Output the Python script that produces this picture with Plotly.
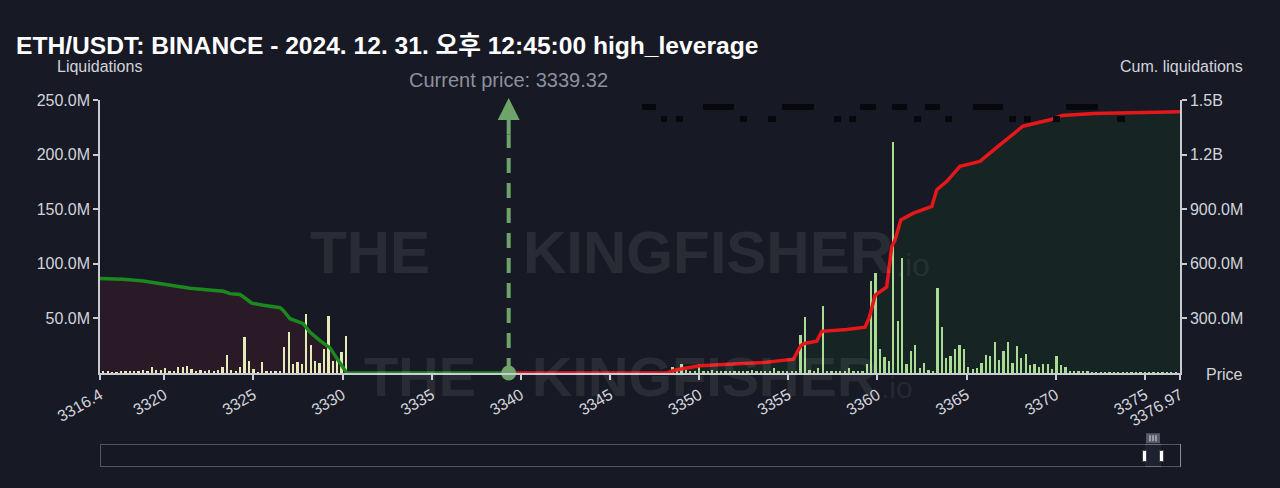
import plotly.graph_objects as go

# ---------------- data ----------------
title_text = "ETH/USDT: BINANCE - 2024. 12. 31. 오후 12:45:00 high_leverage"
current_price = 3339.32
x_min, x_max = 3316.4, 3376.97
x_tick_vals = [3316.4, 3320, 3325, 3330, 3335, 3340, 3345, 3350, 3355, 3360, 3365, 3370, 3375, 3376.97]
x_tick_text = ["3316.4", "3320", "3325", "3330", "3335", "3340", "3345", "3350", "3355", "3360", "3365", "3370", "3375", "3376.97"]

liq_tick_vals = [50, 100, 150, 200, 250]
liq_tick_text = ["50.0M", "100.0M", "150.0M", "200.0M", "250.0M"]
cum_tick_vals = [300, 600, 900, 1200, 1500]
cum_tick_text = ["300.0M", "600.0M", "900.0M", "1.2B", "1.5B"]

# price bins (USD), liquidations in millions of USD
bin_start = 3316.6
bin_step = 0.2475

long_start_index = 0
long_liq = [1.2, 1.0, 0.3, 0.3, 1.0, 1.0, 1.0, 1.0, 1.5, 3.0, 1.0, 5.8, 2.7, 2.4, 4.3, 2.0,
            2.0, 5.8, 5.2, 6.4, 4.0, 2.0, 2.7, 2.0, 3.0, 1.8, 3.0, 5.2, 16.5, 2.7, 1.8, 5.2,
            33.3, 11.3, 4.0, 0.3, 9.8, 1.2, 1.0, 1.0, 1.0, 24.0, 38.0, 8.2, 10.4, 8.2, 54.0,
            25.6, 10.7, 9.5, 21.7, 52.5, 11.3, 12.0, 19.0, 33.9]

short_start_index = 128
short_liq = [0.8, 5.2, 2.0, 8.2, 2.7, 1.8, 1.8, 8.2,
             1.8, 1.8, 2.7, 1.8, 2.0, 1.8, 1.8, 2.0, 1.8, 1.8, 1.8, 2.7, 1.8, 1.8, 1.8, 1.8,
             4.3, 1.8, 1.8, 1.8, 1.8, 1.8,
             34.5, 51.3, 2.4, 1.8, 4.9, 61.0,
             1.8, 1.8, 1.8, 1.8, 1.8, 4.3, 1.8, 1.8, 1.8,
             8.0, 84.0, 91.6, 22.3, 14.7, 11.0, 212.0, 47.6, 105.0,
             8.5, 20.0, 25.3, 4.9, 9.5, 3.0, 1.8, 77.8, 42.0, 14.0, 15.3, 22.3, 25.3, 21.7,
             5.2, 3.7, 4.9, 9.5, 16.8, 15.9, 28.4, 12.2, 20.1, 28.7, 9.5, 25.0, 14.0, 17.4,
             7.0, 8.0, 5.8, 8.5, 8.2, 4.0, 15.6, 7.0, 5.8, 1.8, 1.8, 2.0, 1.2, 1.0,
             0.6, 0.6, 0.6, 0.6, 0.6, 0.6, 0.6, 0.6, 0.6, 0.6,
             0.6, 0.6, 0.6, 0.6, 0.6, 0.6, 0.6, 0.6, 0.6, 0.6]

# cumulative liquidations (millions)
long_cum_price = [3316.4, 3317.71, 3318.83, 3319.58, 3320.51, 3321.45, 3322.38, 3323.32, 3323.69,
                  3324.25, 3324.53, 3324.91, 3325.56, 3326.50, 3326.68, 3327.06, 3327.80, 3328.18,
                  3328.74, 3329.30, 3329.77, 3330.24, 3339.32]
long_cum = [519, 515, 506, 495, 482, 466, 458, 449, 436, 431, 412, 384, 372, 359, 344, 298, 271,
            224, 178, 138, 68, 0, 0]

short_cum_price = [3339.32, 3348.18, 3348.74, 3350.05, 3351.92, 3353.79, 3354.54, 3355.28, 3355.70,
                   3355.88, 3356.60, 3356.88, 3358.28, 3359.31, 3359.55, 3359.87, 3360.52, 3360.80,
                   3360.99, 3361.31, 3362.02, 3363.05, 3363.33, 3363.89, 3364.63, 3365.01, 3365.75,
                   3366.54, 3368.16, 3369.74, 3370.35, 3372.15, 3376.97]
short_cum = [0, 0, 18, 40, 50, 59, 68, 75, 150, 162, 175, 229, 239, 252, 307, 427, 473, 694, 731,
             841, 878, 915, 1007, 1053, 1136, 1145, 1163, 1227, 1356, 1393, 1415, 1426, 1436]

price_marker_top = 1310  # top of dashed current-price line (cum axis units)
slider_range = [-640, 3449]

# ---------------- style ----------------
BG = "#171924"
AXIS = "#c9cbd3"
TICK = "#d2d4dc"
FONT = "Liberation Sans, Arial, Noto Sans CJK KR, sans-serif"
WM_FONT = "Liberation Sans Narrow, Liberation Sans, Arial, sans-serif"
WM_COLOR = "rgba(255,255,255,0.08)"
PRICE_GREEN = "#6ea469"

W, H = 1280, 488
PL, PR, PT, PB = 100, 1180, 100, 372
SLIDER_TOP = 443


def px(x):
    return (x - PL) / (PR - PL)


def py(y):
    return (PB - y) / (PB - PT)


long_x = [bin_start + bin_step * (long_start_index + k) for k in range(len(long_liq))]
short_x = [bin_start + bin_step * (short_start_index + k) for k in range(len(short_liq))]

fig = go.Figure()

# fills (bottom layer, cum axis)
fig.add_trace(go.Scatter(x=long_cum_price, y=long_cum, mode="lines", line=dict(width=0),
                         fill="tozeroy", fillcolor="rgba(220,30,60,0.10)", yaxis="y",
                         hoverinfo="skip"))
fig.add_trace(go.Scatter(x=short_cum_price, y=short_cum, mode="lines", line=dict(width=0),
                         fill="tozeroy", fillcolor="rgba(20,140,40,0.10)", yaxis="y",
                         hoverinfo="skip"))
# bars (liquidations axis)
fig.add_trace(go.Bar(x=long_x, y=long_liq, width=0.1, marker=dict(color="#e4ebb6", line=dict(width=0)),
                     yaxis="y2"))
fig.add_trace(go.Bar(x=short_x, y=short_liq, width=0.1, marker=dict(color="#a9dc92", line=dict(width=0)),
                     yaxis="y2"))
# cumulative lines (top layer)
fig.add_trace(go.Scatter(x=long_cum_price, y=long_cum, mode="lines",
                         line=dict(color="#1b8a1e", width=3.5), yaxis="y3"))
fig.add_trace(go.Scatter(x=short_cum_price, y=short_cum, mode="lines",
                         line=dict(color="#e5171b", width=3.5), yaxis="y3"))
# current price marker
fig.add_trace(go.Scatter(x=[current_price, current_price], y=[0, price_marker_top], mode="lines",
                         line=dict(color=PRICE_GREEN, width=4, dash="15px,10px"), yaxis="y3"))
fig.add_trace(go.Scatter(x=[current_price], y=[0], mode="markers",
                         marker=dict(color=PRICE_GREEN, size=15), yaxis="y3", cliponaxis=False))

ann = []
# watermark
for txt, cx, cy, size, bold in [("THE", 370, 252, 60, True), ("KINGFISHER", 708, 252, 60, True),
                                (".io", 913, 264, 32, False),
                                ("THE", 420, 375, 56, True), ("KINGFISHER", 704, 375, 56, True),
                                (".io", 897, 386, 30, False)]:
    ann.append(dict(text=txt, x=px(cx), y=py(cy), xref="paper", yref="paper", showarrow=False,
                    xanchor="center", yanchor="middle",
                    font=dict(family=WM_FONT, size=size, color=WM_COLOR, weight=700 if bold else 300)))

ann += [
    dict(text="Liquidations", x=px(99), y=py(67), xref="paper", yref="paper", showarrow=False,
         xanchor="center", yanchor="middle", font=dict(family=FONT, size=16, color=TICK)),
    dict(text="Cum. liquidations", x=px(1181), y=py(67), xref="paper", yref="paper", showarrow=False,
         xanchor="center", yanchor="middle", font=dict(family=FONT, size=16, color=TICK)),
    dict(text="Price", x=px(1224), y=py(373), xref="paper", yref="paper", showarrow=False,
         xanchor="center", yanchor="middle", font=dict(family=FONT, size=16, color=TICK)),
    dict(text=f"Current price: {current_price}", x=current_price, y=py(80), xref="x", yref="paper",
         showarrow=False, xanchor="center", yanchor="middle",
         font=dict(family=FONT, size=20, color="#8d919c")),
    dict(text="", x=current_price, y=py(98), xref="x", yref="paper", showarrow=True,
         ax=0, ay=38, axref="pixel", ayref="pixel", arrowhead=2, arrowsize=1.1, arrowwidth=4,
         arrowcolor=PRICE_GREEN),
]

shapes = []
row1 = [(642, 656), (703, 734), (782, 814), (860, 876), (892, 907), (925, 940), (973, 1003), (1066, 1098)]
row2 = [(661, 667), (676, 683), (740, 747), (768, 776), (834, 841), (849, 856), (914, 921), (945, 952),
        (1009, 1016), (1024, 1031), (1053, 1060), (1117, 1125)]
for a, b in row1:
    shapes.append(dict(type="rect", xref="paper", yref="paper", x0=px(a), x1=px(b), y0=py(110), y1=py(104),
                       fillcolor="#07080c", line=dict(width=0), layer="above"))
for a, b in row2:
    shapes.append(dict(type="rect", xref="paper", yref="paper", x0=px(a), x1=px(b), y0=py(122), y1=py(116),
                       fillcolor="#07080c", line=dict(width=0), layer="above"))
# slider grip tab
shapes.append(dict(type="rect", xref="paper", yref="paper", x0=px(1146), x1=px(1160),
                   y0=py(SLIDER_TOP - 1), y1=py(SLIDER_TOP - 11),
                   fillcolor="#555866", line=dict(width=0), layer="above"))
for gx in (1150, 1153, 1156):
    shapes.append(dict(type="line", xref="paper", yref="paper", x0=px(gx), x1=px(gx),
                       y0=py(SLIDER_TOP - 3), y1=py(SLIDER_TOP - 9),
                       line=dict(color="#e0e0e6", width=1), layer="above"))

axis_common = dict(showgrid=False, zeroline=False, showline=True, linecolor=AXIS, linewidth=1.5,
                   ticks="outside", ticklen=5, tickcolor=AXIS, tickwidth=1.5,
                   tickfont=dict(family=FONT, size=16, color=TICK))

fig.update_layout(
    width=W, height=H,
    paper_bgcolor=BG, plot_bgcolor=BG,
    margin=dict(l=PL, r=W - PR, t=PT, b=21, autoexpand=True),
    showlegend=False,
    bargap=0,
    title=dict(text=f"<b>{title_text}</b>", x=16 / W, xanchor="left", xref="container",
               y=1 - 45 / H, yanchor="middle", yref="container",
               font=dict(family=FONT, size=24.6, color="#ffffff")),
    xaxis=dict(range=[x_min, x_max], autorange=False, tickmode="array", tickvals=x_tick_vals,
               ticktext=x_tick_text, tickangle=-30,
               rangeslider=dict(visible=True, range=slider_range, autorange=False, thickness=0.0625,
                                bgcolor="#262a3c", bordercolor="#8a8d99", borderwidth=1,
                                yaxis=dict(rangemode="fixed", range=[1e7, 2e7])),
               **axis_common),
    yaxis=dict(range=[0, 1500], side="right", tickmode="array", tickvals=cum_tick_vals,
               ticktext=cum_tick_text, **axis_common),
    yaxis2=dict(range=[0, 250], side="left", overlaying="y", tickmode="array", tickvals=liq_tick_vals,
                ticktext=liq_tick_text, **axis_common),
    yaxis3=dict(range=[0, 1500], overlaying="y", visible=False),
    annotations=ann,
    shapes=shapes,
)

# keep the overlaid traces out of the range slider preview (plotly.js per-axis slider ranges)
fig._layout["xaxis"]["rangeslider"]["yaxis2"] = dict(rangemode="fixed", range=[1e7, 2e7])
fig._layout["xaxis"]["rangeslider"]["yaxis3"] = dict(rangemode="fixed", range=[1e7, 2e7])

fig.write_html("out.html")
